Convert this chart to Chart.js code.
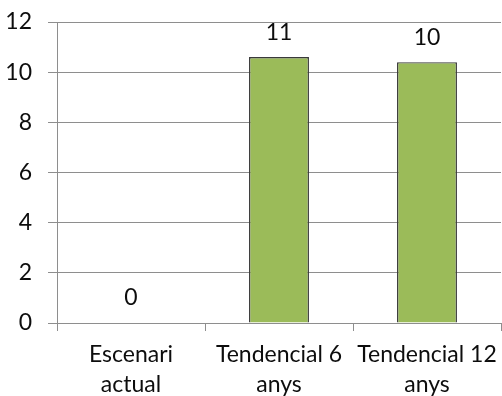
<!DOCTYPE html>
<html>
<head>
<meta charset="utf-8">
<script src="https://cdn.jsdelivr.net/npm/chart.js@4/dist/chart.umd.min.js"></script>
<style>
  html, body { margin: 0; padding: 0; background: #fff; }
  #wrap { width: 502px; height: 396px; }
</style>
</head>
<body>
<div id="wrap"><canvas id="c" width="502" height="396"></canvas></div>
<script>
// Scenario categories (two-line labels) and their values
const categories = [['Escenari', 'actual'], ['Tendencial 6', 'anys'], ['Tendencial 12', 'anys']];
const values = [0, 10.6, 10.4];
const yTicks = [0, 2, 4, 6, 8, 10, 12];

const FONT = 'Lato, "Noto Sans", sans-serif';
const FONT_SIZE = 23;
const TEXT = '#0d0d0d';
const GRID = '#8e8e8e';

// Rounded value written above each bar
const valueLabels = {
  id: 'valueLabels',
  afterDatasetsDraw(chart) {
    const ctx = chart.ctx;
    const meta = chart.getDatasetMeta(0);
    ctx.save();
    ctx.font = FONT_SIZE + 'px ' + FONT;
    ctx.fillStyle = TEXT;
    ctx.textAlign = 'center';
    ctx.textBaseline = 'middle';
    meta.data.forEach((bar, i) => {
      ctx.fillText(String(Math.round(values[i])), bar.x, bar.y - 25);
    });
    ctx.restore();
  }
};

new Chart(document.getElementById('c'), {
  type: 'bar',
  data: {
    labels: categories,
    datasets: [{
      data: values,
      backgroundColor: '#9bbb59',
      borderColor: '#3a3a3a',
      borderWidth: 1.4,
      barPercentage: 0.405,
      categoryPercentage: 1
    }]
  },
  options: {
    responsive: false,
    devicePixelRatio: 1,
    animation: false,
    layout: { padding: { top: 22, right: 1, bottom: 0, left: 0 } },
    plugins: { legend: { display: false }, tooltip: { enabled: false } },
    scales: {
      x: {
        grid: { offset: true, drawOnChartArea: false, drawTicks: true, tickLength: 8, color: GRID, lineWidth: 1 },
        border: { color: GRID, width: 1 },
        ticks: {
          color: TEXT,
          font: { family: FONT, size: FONT_SIZE, lineHeight: 30 / FONT_SIZE },
          padding: 9,
          maxRotation: 0,
          autoSkip: false
        },
        afterFit(scale) {
          scale.height = 73;
          scale.paddingLeft = 0;
          scale.paddingRight = 0;
        }
      },
      y: {
        min: 0,
        max: 12,
        afterBuildTicks(scale) { scale.ticks = yTicks.map(v => ({ value: v })); },
        grid: { color: GRID, lineWidth: 1, tickLength: 9, drawTicks: true },
        border: { color: GRID, width: 1 },
        ticks: {
          color: TEXT,
          font: { family: FONT, size: FONT_SIZE },
          padding: 16
        },
        afterFit(scale) {
          scale.width = 57;
          scale.paddingTop = 0;
          scale.paddingBottom = 0;
        }
      }
    }
  },
  plugins: [valueLabels]
});
</script>
</body>
</html>
